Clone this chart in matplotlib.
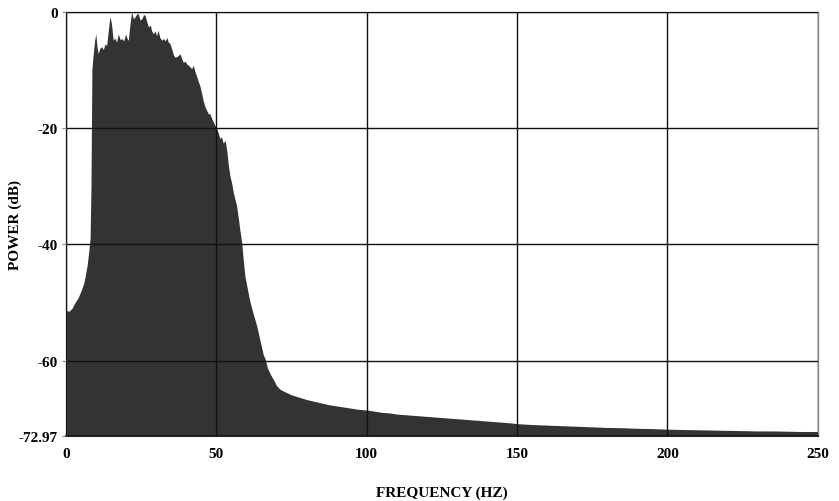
import numpy as np
import matplotlib
matplotlib.use("Agg")
import matplotlib.pyplot as plt

# spectrum (Hz, dB)
freq = [0, 1, 2, 3, 4, 5, 6, 7, 7.5, 8, 8.3, 8.6, 9.0, 9.5, 9.9, 10.3, 10.7, 11.2,
        11.9, 12.4, 13.0, 13.5, 14.0, 14.6, 15.1, 15.7, 16.2, 16.8, 17.4, 18.0,
        18.5, 19.2, 19.8, 20.3, 20.7, 21.3, 21.8, 22.4, 22.9, 23.5, 24.0, 24.6,
        25.2, 25.8, 26.3, 26.9, 27.4, 28.0, 28.5, 29.0, 29.6, 30.1, 30.6, 31.2,
        31.8, 32.4, 33.0, 33.5, 34.0, 34.6, 35.2, 35.7, 36.2, 36.8, 37.4, 37.9,
        38.5, 39.0, 39.6, 40.2, 40.7, 41.3, 41.8, 42.3, 42.9, 43.5, 44.0, 44.5,
        45.1, 45.6, 46.2, 46.8, 47.3, 47.9, 48.4, 49.0, 49.5, 50.1, 50.6, 51.2,
        51.7, 52.3, 52.9, 53.5, 54.0, 54.5, 55.1, 55.6, 56.2, 56.7, 57.3, 57.8,
        58.4, 59.0, 59.5, 60.1, 61.0, 62.0, 63.4, 64.5, 65.6, 66.2, 67.0, 68.0,
        68.9, 70.0, 71.1, 72.5, 75, 77.5, 80, 82.5, 85, 87.5, 90, 92.5, 95, 97.5,
        100, 102.5, 105, 107.5, 110, 112.5, 115, 117.5, 120, 122.5, 125, 127.5,
        130, 132.5, 135, 137.5, 140, 142.5, 145, 147.5, 150, 155, 160, 165, 170,
        175, 180, 185, 190, 195, 200, 205, 210, 215, 220, 225, 230, 235, 240,
        245, 250]
power = [-51.4, -51.5, -51.0, -50.0, -49.2, -48.0, -46.5, -43.7, -41.5, -39.0,
         -30.0, -10.0, -7.5, -5.0, -3.8, -6.0, -7.2, -6.3, -6.0, -6.5, -5.5, -5.8,
         -3.5, -0.8, -2.0, -4.9, -4.5, -5.2, -3.8, -4.8, -4.6, -5.0, -3.8, -4.6,
         -4.9, -2.0, 0.0, -1.2, -0.9, -0.4, -0.3, -1.4, -1.2, -0.5, -0.6, -1.8,
         -2.6, -2.3, -3.3, -3.8, -3.3, -4.1, -3.2, -4.4, -4.9, -4.6, -5.0, -4.4,
         -5.2, -5.5, -6.5, -7.4, -7.8, -7.7, -7.5, -7.2, -8.1, -8.7, -8.5, -9.0,
         -9.2, -9.5, -9.8, -9.2, -10.3, -11.2, -12.0, -12.7, -14.0, -15.3, -16.3,
         -17.0, -17.5, -17.6, -18.3, -19.0, -19.5, -20.1, -20.8, -21.8, -21.5,
         -22.6, -22.1, -24.0, -26.5, -28.2, -29.5, -31.0, -32.3, -33.3, -35.5,
         -37.5, -39.6, -43.0, -45.5, -47.1, -49.5, -51.5, -54.0, -56.5, -59.0,
         -59.7, -61.3, -62.4, -63.2, -64.3, -64.9, -65.3, -65.9, -66.3, -66.7,
         -67.0, -67.3, -67.6, -67.8, -68.0, -68.2, -68.4, -68.5, -68.7, -68.9,
         -69.0, -69.2, -69.3, -69.4, -69.5, -69.6, -69.7, -69.8, -69.9, -70.0,
         -70.1, -70.2, -70.3, -70.4, -70.5, -70.6, -70.7, -70.85, -71.0, -71.1,
         -71.2, -71.3, -71.4, -71.5, -71.55, -71.65, -71.7, -71.8, -71.85, -71.9,
         -71.95, -72.0, -72.05, -72.1, -72.1, -72.15, -72.2, -72.2]

ymin = -72.97
xticks = [0, 50, 100, 150, 200, 250]
yticks = [0, -20, -40, -60, ymin]
ytick_labels = ["0", "-20", "-40", "-60", "-72.97"]

plt.rcParams['font.family'] = ['Liberation Serif', 'DejaVu Serif']

fig = plt.figure(figsize=(8.39, 5.02), dpi=100)
ax = fig.add_axes([0.0787, 0.1295, 0.896, 0.845])

ax.fill_between(freq, power, ymin, color='#333333', linewidth=0, zorder=1)

ax.set_xlim(0, 250)
ax.set_ylim(ymin, 0)
ax.set_xticks(xticks)
ax.set_yticks(yticks)
ax.set_yticklabels(ytick_labels)
ax.grid(True, color='#111111', linewidth=1.0, zorder=2)
ax.set_axisbelow(False)

for s in ax.spines.values():
    s.set_color('#888888')
    s.set_linewidth(1.0)
ax.spines['bottom'].set_color('#222222')
ax.spines['bottom'].set_linewidth(1.5)

ax.tick_params(axis='both', labelsize=11, length=0, pad=8)
ax.tick_params(axis='y', length=3, pad=3, color='#888888')
for lab in ax.get_xticklabels() + ax.get_yticklabels():
    lab.set_fontweight('bold')

ax.set_xlabel('FREQUENCY (HZ)', fontsize=11, fontweight='bold', labelpad=18)
# y label placed by hand so it sits where the reference has it
fig.text(15 / 839, 1 - 225 / 502, 'POWER (dB)', fontsize=11, fontweight='bold',
         rotation=90, ha='center', va='center')

fig.savefig('out.png', dpi=100)
